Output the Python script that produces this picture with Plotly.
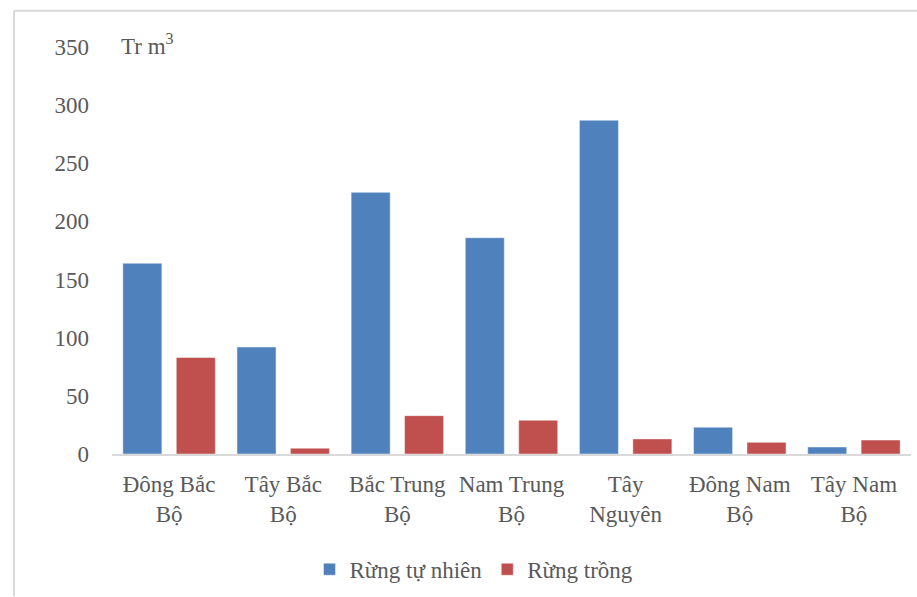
import plotly.graph_objects as go

categories = ["Đông Bắc<br>Bộ", "Tây Bắc<br>Bộ", "Bắc Trung<br>Bộ", "Nam Trung<br>Bộ",
              "Tây<br>Nguyên", "Đông Nam<br>Bộ", "Tây Nam<br>Bộ"]
rung_tu_nhien = [164, 92, 225, 186, 287, 23, 6]
rung_trong = [83, 5, 33, 29, 13, 10, 12]
y_ticks = [0, 50, 100, 150, 200, 250, 300, 350]

FONT = "Liberation Serif"
GRAY = "#595959"
FS = 23

fig = go.Figure()
fig.add_trace(go.Bar(
    x=categories, y=rung_tu_nhien, name="Rừng tự nhiên",
    marker=dict(color="#4F81BD", line=dict(color="rgba(255,255,255,0.45)", width=1)),
    width=0.342, offset=-0.405,
))
fig.add_trace(go.Bar(
    x=categories, y=rung_trong, name="Rừng trồng",
    marker=dict(color="#C0504D", line=dict(color="rgba(255,255,255,0.45)", width=1)),
    width=0.342, offset=0.063,
))

L, R, T, B = 112, 6, 46.5, 141
W, H = 917, 597
pw = W - L - R
ph = H - T - B

def px_to_paper_x(px):
    return (px - L) / pw

def px_to_paper_y(py):
    return (H - B - py) / ph

fig.update_layout(
    width=W, height=H,
    margin=dict(l=L, r=R, t=T, b=B, pad=0),
    paper_bgcolor="white", plot_bgcolor="white",
    font=dict(family=FONT, size=FS, color=GRAY),
    barmode="group",
    showlegend=True,
    legend=dict(orientation="h", x=px_to_paper_x(474), y=px_to_paper_y(572),
                xanchor="center", yanchor="middle",
                font=dict(family=FONT, size=FS, color=GRAY),
                itemwidth=30, tracegroupgap=0),
    xaxis=dict(showgrid=False, showline=True, linecolor="#d9d9d9", linewidth=2,
               ticks="", ticklabelstandoff=8,
               tickfont=dict(family=FONT, size=FS, color=GRAY),
               zeroline=False, fixedrange=True),
    yaxis=dict(range=[0, 350], tickvals=y_ticks, showgrid=False, showline=False,
               zeroline=False, ticks="", ticklabelstandoff=22,
               tickfont=dict(family=FONT, size=FS, color=GRAY)),
    annotations=[dict(text="Tr m<sup>3</sup>", xref="paper", yref="paper",
                      x=px_to_paper_x(119), y=px_to_paper_y(44),
                      xanchor="left", yanchor="middle", showarrow=False,
                      font=dict(family=FONT, size=FS, color=GRAY))],
    shapes=[
        dict(type="line", xref="paper", yref="paper",
             x0=px_to_paper_x(14), x1=px_to_paper_x(W + 2),
             y0=px_to_paper_y(10), y1=px_to_paper_y(10),
             line=dict(color="#d9d9d9", width=2)),
        dict(type="line", xref="paper", yref="paper",
             x0=px_to_paper_x(14), x1=px_to_paper_x(14),
             y0=px_to_paper_y(10), y1=px_to_paper_y(H + 2),
             line=dict(color="#d9d9d9", width=2)),
    ],
)

fig.write_html("out.html")
